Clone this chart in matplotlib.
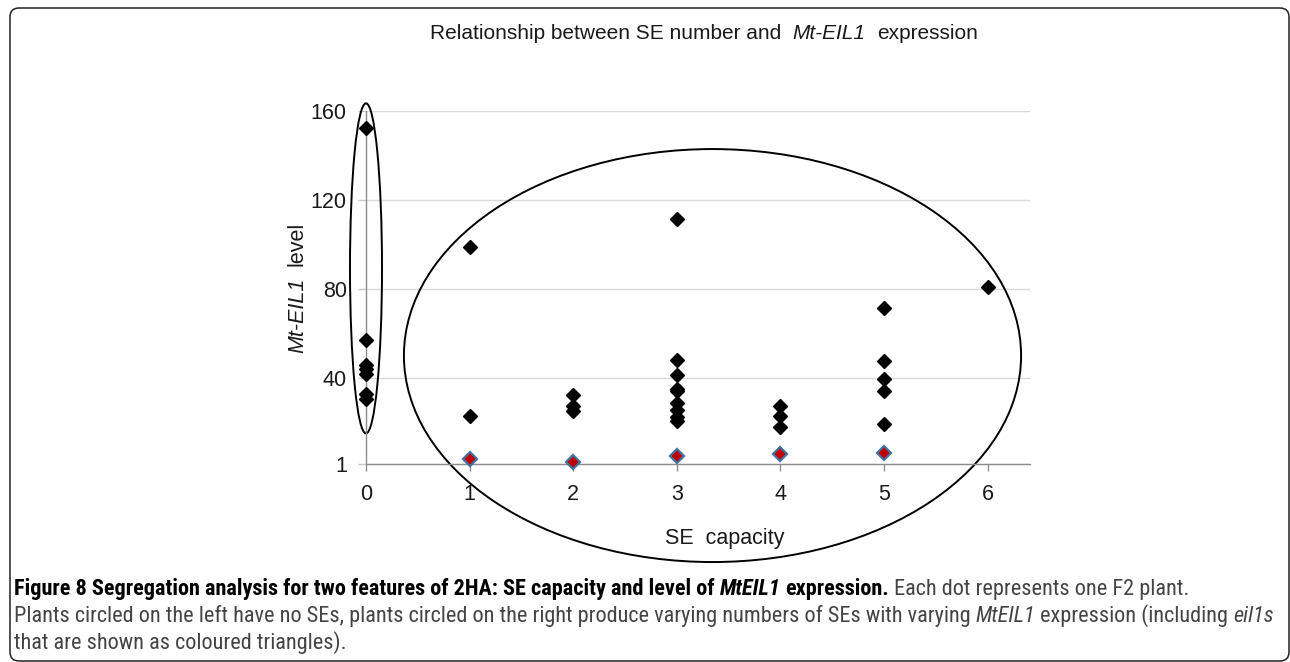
import matplotlib
matplotlib.use("Agg")
import matplotlib.pyplot as plt
from matplotlib.patches import Ellipse, FancyBboxPatch
from matplotlib.transforms import IdentityTransform
from matplotlib import font_manager

# ---------------- data ----------------
se_capacity = [0, 1, 2, 3, 4, 5, 6]
levels_se0 = [152.2, 56.7, 45.8, 43.8, 41.8, 32.8, 30.4]
levels_se1 = [98.5, 22.9]
levels_se2 = [32.3, 27.4, 24.9]
levels_se3 = [111.4, 47.8, 41.3, 34.8, 33.8, 28.4, 25.4, 22.4, 20.4]
levels_se4 = [27.4, 22.9, 17.9]
levels_se5 = [71.1, 47.3, 39.3, 33.8, 18.9]
levels_se6 = [80.6]
eil1s_capacity = [1, 2, 3, 4, 5]
eil1s_level = [3.3, 1.9, 4.9, 5.7, 6.0]

y_ticks = [1, 40, 80, 120, 160]
y_tick_labels = ["1", "40", "80", "120", "160"]
x_ticks = [0, 1, 2, 3, 4, 5, 6]
x_tick_labels = ["0", "1", "2", "3", "4", "5", "6"]

title_parts = [("Relationship between SE number and  ", "normal"),
               ("Mt-EIL1", "italic"), ("  expression", "normal")]
ylabel_parts = [("Mt-EIL1", "italic"), ("  level", "normal")]
xlabel_text = "SE  capacity"

caption_lines = [
    [("Figure 8 Segregation analysis for two features of 2HA: SE capacity and level of ", "bold"),
     ("MtEIL1", "bolditalic"), (" expression.", "bold"),
     (" Each dot represents one F2 plant.", "regular")],
    [("Plants circled on the left have no SEs, plants circled on the right produce varying numbers of SEs with varying ", "regular"),
     ("MtEIL1", "italic"), (" expression (including ", "regular"), ("eil1s", "italic")],
    [("that are shown as coloured triangles).", "regular")],
]

# ---------------- figure ----------------
W, H = 1290, 662
fig = plt.figure(figsize=(W / 100, H / 100), dpi=100)
fig.patch.set_facecolor("white")
renderer = fig.canvas.get_renderer()

names = sorted({f.name for f in font_manager.fontManager.ttflist})
MAIN = "Liberation Sans" if "Liberation Sans" in names else "DejaVu Sans"
CAP = MAIN
for cand in ["Liberation Sans Narrow", "Roboto Condensed", "Open Sans Condensed",
             "DejaVu Sans Condensed"]:
    if cand in names:
        CAP = cand
        break
else:
    narrow = [n for n in names if "Narrow" in n or "Condensed" in n]
    if narrow:
        CAP = narrow[0]

ax_left, ax_right, ax_top, ax_bottom = 366, 1030, 110.7, 464.3
ax = fig.add_axes([ax_left / W, 1 - ax_bottom / H,
                   (ax_right - ax_left) / W, (ax_bottom - ax_top) / H])
ax.set_xlim(0, 6.41)
ax.set_ylim(1, 160)
for s in ["top", "right"]:
    ax.spines[s].set_visible(False)
for s in ["left", "bottom"]:
    ax.spines[s].set_color("#8c8c8c")
    ax.spines[s].set_linewidth(1.0)
ax.set_yticks(y_ticks)
ax.set_yticklabels(y_tick_labels, fontfamily=MAIN)
ax.set_xticks(x_ticks)
ax.set_xticklabels(x_tick_labels, fontfamily=MAIN)
ax.grid(axis="y", color="#d9d9d9", linewidth=1.0)
ax.set_axisbelow(True)
ax.tick_params(axis="y", length=5.8, width=1.0, color="#c8c8c8",
               labelsize=15.5, pad=8, labelcolor="#1a1a1a")
ax.tick_params(axis="x", length=5.2, width=1.0, color="#8c8c8c",
               labelsize=15.5, pad=9, labelcolor="#1a1a1a")

# points
groups = [levels_se0, levels_se1, levels_se2, levels_se3,
          levels_se4, levels_se5, levels_se6]
for cap, lev in zip(se_capacity, groups):
    ax.plot([cap] * len(lev), lev, linestyle="none", marker="D",
            markersize=6.8, color="black", clip_on=False, zorder=3)
ax.plot(eil1s_capacity, eil1s_level, linestyle="none", marker="D",
        markersize=7.4, markerfacecolor="#c00000",
        markeredgecolor="#41719c", markeredgewidth=1.6,
        clip_on=False, zorder=4)

# ellipses (annotation circles)
ax.add_patch(Ellipse((0.0, 89.1), 0.309, 148.4, fill=False,
                     edgecolor="black", linewidth=1.4, clip_on=False, zorder=2))
ax.add_patch(Ellipse((3.345, 49.9), 5.958, 185.7, fill=False,
                     edgecolor="black", linewidth=1.4, clip_on=False, zorder=2))


# ---------------- text helpers ----------------
def style_kw(style, family, size, color):
    kw = dict(fontfamily=family, fontsize=size, color=color)
    if style in ("bold", "bolditalic"):
        kw["fontweight"] = "bold"
    if style in ("italic", "bolditalic"):
        kw["fontstyle"] = "italic"
    return kw


def seg_width(text, kw):
    t1 = fig.text(0, 0, "x" + text + "x", **kw)
    t2 = fig.text(0, 0, "xx", **kw)
    w = t1.get_window_extent(renderer).width - t2.get_window_extent(renderer).width
    t1.remove()
    t2.remove()
    return w


def draw_parts(parts, x0, y_base, ha="left"):
    """parts: list of (text, kw). Coordinates in pixels from top-left."""
    widths = [seg_width(t, kw) for t, kw in parts]
    total = sum(widths)
    pos = x0 - total / 2 if ha == "center" else x0
    for (t, kw), w in zip(parts, widths):
        lead = len(t) - len(t.lstrip(" "))
        off = seg_width(" " * lead, kw) if lead else 0
        fig.text((pos + off) / W, 1 - y_base / H, t.strip(" "),
                 ha="left", va="baseline", **kw)
        pos += w
    return total


# title
title_kw = [(t, style_kw(s, MAIN, 15.0, "#1a1a1a")) for t, s in title_parts]
draw_parts(title_kw, 704, 39, ha="center")

# y label (rotated, drawn bottom to top)
ylab = [(t, style_kw(s, MAIN, 15.5, "#1a1a1a")) for t, s in ylabel_parts]
yw = [seg_width(t, kw) for t, kw in ylab]
x0_rot = 303
pos = (H - 287.5) - sum(yw) / 2  # display coords (from bottom)
for (t, kw), w in zip(ylab, yw):
    lead = len(t) - len(t.lstrip(" "))
    off = seg_width(" " * lead, kw) if lead else 0
    fig.text(x0_rot / W, (pos + off) / H, t.strip(" "), ha="left",
             va="baseline", rotation=90, rotation_mode="anchor", **kw)
    pos += w

# x label
fig.text(725 / W, 1 - 544 / H, xlabel_text, ha="center", va="baseline",
         fontfamily=MAIN, fontsize=15.5, color="#1a1a1a")


# caption: fit lines to target widths
def cap_parts(line, size):
    out = []
    for t, s in line:
        color = "#000000" if s in ("bold", "bolditalic") else "#444444"
        out.append((t, style_kw(s, CAP, size, color)))
    return out


base_size = 10.0
w_line1 = sum(seg_width(t, kw) for t, kw in cap_parts(caption_lines[0], base_size))
w_line2 = sum(seg_width(t, kw) for t, kw in cap_parts(caption_lines[1], base_size))
cap_size = min(base_size * 1248 / w_line1, base_size * 1252 / w_line2)
cap_baselines = [595, 622, 649]
for line, yb in zip(caption_lines, cap_baselines):
    draw_parts(cap_parts(line, cap_size), 14, yb)

# outer rounded frame (pixel coordinates)
frame = FancyBboxPatch((10, 1), 1279, 653,
                       boxstyle="round,pad=0,rounding_size=9",
                       transform=IdentityTransform(), fill=False,
                       edgecolor="#222222", linewidth=1.1)
fig.add_artist(frame)

fig.savefig("out.png", dpi=100)
